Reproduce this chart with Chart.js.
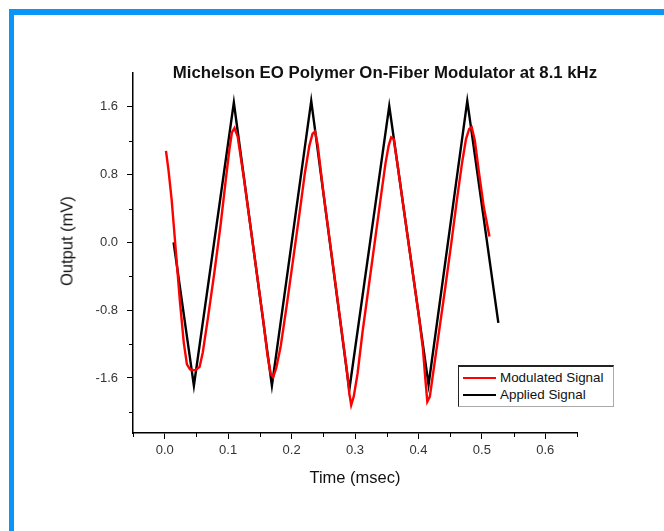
<!DOCTYPE html>
<html>
<head>
<meta charset="utf-8">
<script src="https://cdn.jsdelivr.net/npm/chart.js@4"></script>
<style>
  body { margin: 0; background: #fff; width: 664px; height: 531px; overflow: hidden; position: relative; font-family: "Liberation Sans", Arial, sans-serif; }
  #frame { position: absolute; left: 9px; top: 9px; right: 0; bottom: 0; border-top: 6px solid #0a96f8; border-left: 5px solid #0a96f8; }
  #wrap { position: absolute; left: 0; top: 0; width: 664px; height: 531px; }
  #title { position: absolute; left: 150px; top: 63px; width: 470px; text-align: center; font-weight: bold; font-size: 16.8px; color: #111; white-space: nowrap; }
  #ytitle { position: absolute; left: 67px; top: 241px; transform: translate(-50%, -50%) rotate(-90deg); font-size: 16.5px; color: #111; white-space: nowrap; }
  #legend { position: absolute; left: 458px; top: 365px; width: 154px; height: 39px; border: 1px solid #222; border-top-width: 2px; border-right-color: #aaa; border-bottom-color: #aaa; background: #fff; font-size: 13.4px; color: #111; }
  .item { position: absolute; left: 4px; height: 16px; line-height: 16px; white-space: nowrap; }
  .item span { display: inline-block; width: 33px; height: 2px; vertical-align: middle; margin-right: 4px; }
</style>
</head>
<body>
<div id="frame"></div>
<div id="wrap"><canvas id="chart" width="664" height="531"></canvas></div>
<div id="title">Michelson EO Polymer On-Fiber Modulator at 8.1 kHz</div>
<div id="ytitle">Output (mV)</div>
<div id="legend"></div>
<script>
const seriesNames = ["Modulated Signal", "Applied Signal"];
const seriesColors = ["#ff0000", "#000000"];

// Modulated Signal (red)
const modX = [0.002, 0.006, 0.011, 0.016, 0.024, 0.030, 0.035, 0.040, 0.048, 0.055,
  0.060, 0.068, 0.078, 0.088, 0.096, 0.102, 0.106, 0.110, 0.115,
  0.125, 0.140, 0.155, 0.162, 0.167, 0.171, 0.176,
  0.183, 0.193, 0.203, 0.213, 0.221, 0.228, 0.233, 0.237, 0.241,
  0.250, 0.265, 0.280, 0.287, 0.291, 0.294, 0.298,
  0.304, 0.312, 0.322, 0.332, 0.341, 0.348, 0.353, 0.357, 0.361,
  0.367, 0.385, 0.400, 0.407, 0.411, 0.414, 0.418,
  0.424, 0.432, 0.442, 0.452, 0.461, 0.469, 0.475, 0.480, 0.484, 0.489,
  0.495, 0.503, 0.512];
const modY = [1.08, 0.85, 0.50, 0.04, -0.70, -1.18, -1.44, -1.50, -1.51, -1.47,
  -1.30, -0.90, -0.37, 0.20, 0.72, 1.10, 1.30, 1.35, 1.25,
  0.75, -0.08, -0.90, -1.33, -1.55, -1.59, -1.48,
  -1.22, -0.71, -0.17, 0.37, 0.82, 1.14, 1.28, 1.31, 1.16,
  0.60, -0.25, -1.10, -1.50, -1.78, -1.92, -1.82,
  -1.55, -1.05, -0.50, 0.05, 0.55, 0.93, 1.14, 1.24, 1.22,
  0.92, -0.04, -0.83, -1.25, -1.62, -1.88, -1.82,
  -1.50, -1.08, -0.55, 0.00, 0.52, 0.95, 1.22, 1.34, 1.36, 1.20,
  0.85, 0.42, 0.07];

// Applied Signal (black)
const appX = [0.014, 0.046, 0.109, 0.169, 0.231, 0.291, 0.354, 0.416, 0.477, 0.526];
const appY = [0.00, -1.69, 1.65, -1.69, 1.67, -1.74, 1.61, -1.68, 1.67, -0.95];

const xTicks = [0.0, 0.1, 0.2, 0.3, 0.4, 0.5, 0.6];
const xMinor = [-0.05, 0.05, 0.15, 0.25, 0.35, 0.45, 0.55, 0.65];
const yTicks = [-1.6, -0.8, 0.0, 0.8, 1.6];
const yMinor = [-2.0, -1.2, -0.4, 0.4, 1.2];

const toPoints = (xs, ys) => xs.map((x, i) => ({ x: x, y: ys[i] }));

// minor ticks, shorter than the major ones
const minorTicks = {
  id: "minorTicks",
  afterDraw(chart) {
    const ctx = chart.ctx;
    const xs = chart.scales.x, ys = chart.scales.y;
    ctx.save();
    ctx.strokeStyle = "#000";
    ctx.lineWidth = 1;
    ctx.beginPath();
    xMinor.forEach(v => {
      const px = Math.round(xs.getPixelForValue(v)) + 0.5;
      ctx.moveTo(px, xs.top);
      ctx.lineTo(px, xs.top + 4);
    });
    yMinor.forEach(v => {
      const py = Math.round(ys.getPixelForValue(v)) + 0.5;
      ctx.moveTo(ys.right, py);
      ctx.lineTo(ys.right - 4, py);
    });
    ctx.stroke();
    ctx.restore();
  }
};

new Chart(document.getElementById("chart"), {
  type: "line",
  data: {
    datasets: [
      { label: seriesNames[0], data: toPoints(modX, modY), borderColor: seriesColors[0], borderWidth: 2.4, pointRadius: 0, tension: 0 },
      { label: seriesNames[1], data: toPoints(appX, appY), borderColor: seriesColors[1], borderWidth: 2.4, pointRadius: 0, tension: 0 }
    ]
  },
  options: {
    responsive: false,
    animation: false,
    layout: { padding: { left: 0, top: 73, right: 87, bottom: 39 } },
    plugins: { legend: { display: false }, title: { display: false }, tooltip: { enabled: false } },
    scales: {
      x: {
        type: "linear",
        min: -0.05,
        max: 0.65,
        afterFit: s => { s.height = 59; },
        afterBuildTicks: s => { s.ticks = xTicks.map(v => ({ value: v })); },
        border: { display: true, color: "#000", width: 1.5 },
        grid: { drawOnChartArea: false, drawTicks: true, tickLength: 6, color: "#000" },
        ticks: { padding: 4, color: "#333", font: { family: "Liberation Sans", size: 13 }, callback: v => v.toFixed(1), maxRotation: 0 },
        title: { display: true, text: "Time (msec)", color: "#111", font: { family: "Liberation Sans", size: 16.5 } }
      },
      y: {
        min: -2.25,
        max: 2.0,
        afterFit: s => { s.width = 133; },
        afterBuildTicks: s => { s.ticks = yTicks.map(v => ({ value: v })); },
        border: { display: true, color: "#000", width: 1.5 },
        grid: { drawOnChartArea: false, drawTicks: true, tickLength: 6, color: "#000" },
        ticks: { padding: 9, color: "#333", font: { family: "Liberation Sans", size: 13 }, callback: v => v.toFixed(1) },
        title: { display: false }
      }
    }
  },
  plugins: [minorTicks]
});

// legend box inside the plot, like the original
const legend = document.getElementById("legend");
seriesNames.forEach((name, i) => {
  const d = document.createElement("div");
  d.className = "item";
  d.style.top = (3 + i * 17) + "px";
  d.innerHTML = `<span style="background:${seriesColors[i]}"></span>${name}`;
  legend.appendChild(d);
});
</script>
</body>
</html>
